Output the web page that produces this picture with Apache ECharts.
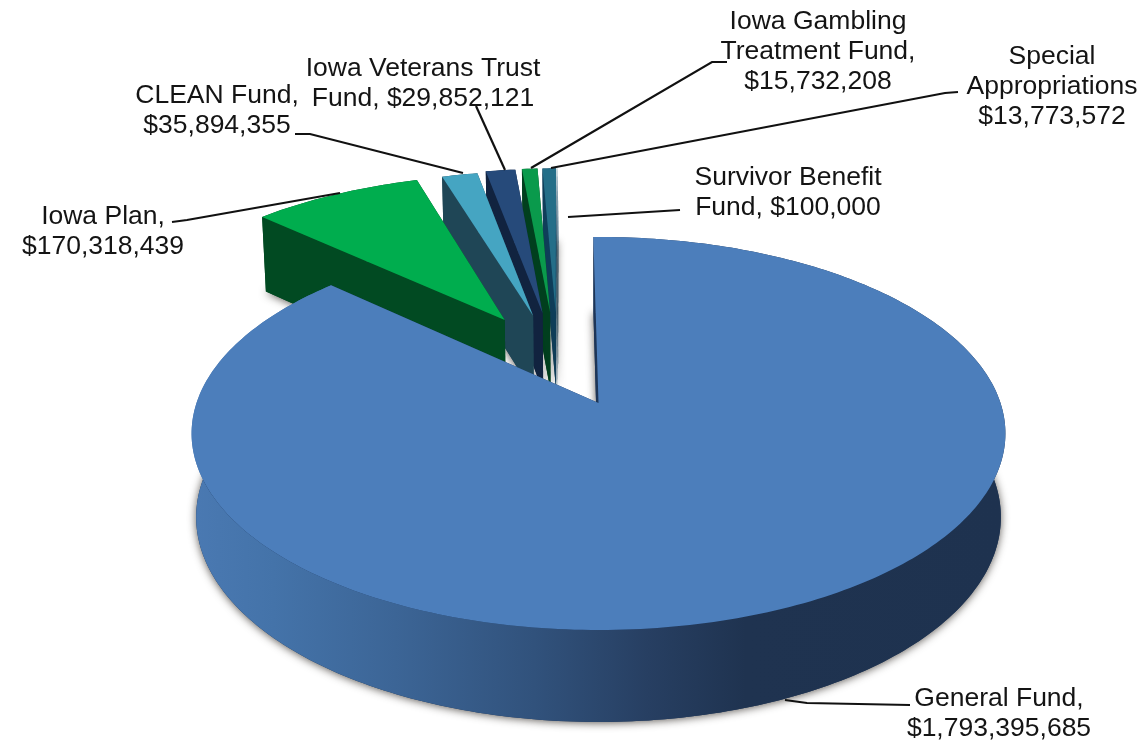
<!DOCTYPE html>
<html>
<head>
<meta charset="utf-8">
<style>
html,body{margin:0;padding:0;background:#fff}
#main{width:1142px;height:753px;filter:blur(0.45px)}
</style>
<script src="https://cdn.jsdelivr.net/npm/echarts@6/dist/echarts.min.js"></script>
</head>
<body>
<div id="main"></div>
<script>
// ---- data ----
var categories = ['General Fund','Iowa Plan','CLEAN Fund','Iowa Veterans Trust Fund','Iowa Gambling Treatment Fund','Special Appropriations','Survivor Benefit Fund'];
var fundValues = [1793395685,170318439,35894355,29852121,15732208,13773572,100000];
var labelTexts = [
  'General Fund,\n$1,793,395,685',
  'Iowa Plan,\n$170,318,439',
  'CLEAN Fund,\n$35,894,355',
  'Iowa Veterans Trust\nFund, $29,852,121',
  'Iowa Gambling\nTreatment Fund,\n$15,732,208',
  'Special\nAppropriations\n$13,773,572',
  'Survivor Benefit\nFund, $100,000'
];

// ---- styles and layout ----
var topColors  = ['#4c7ebb','#00ad4e','#45a5c2','#264a7a','#0a9a4c','#246e88','#246e88'];
var wallColors = ['#1d3557','#014a22','#1f4656','#11233f','#013f1e','#0f3e5a','#0f3e5a'];
var explodeX = [0,-0.25,-0.175,-0.15,-0.13,-0.115,-0.11];
var explodeY = [0,0.464,0.49,0.505,0.51,0.51,0.51];
var drawRank = [7,6,5,4,3,2,1];
var labelX = [999,103,217,423,818,1052,788];
var labelY = [713,231,110,83,51,86,192];
var leaders = [
  [[785,700],[807,703],[910,705]],
  [[172,222],[187,220],[340,193]],
  [[295,134],[310,134],[463,173]],
  [[476,106],[505,170]],
  [[727,62],[712,62],[531,168]],
  [[958,92],[945,93],[551,168]],
  [[680,210],[568,217]]
];
var START_DEG = -0.85, PERSP = 0.155;
var TOP = {cx:598.5, cy:403, rx:402, ry:191.8};
var BOT = {cx:598.5, cy:485.4, rx:397.5, ry:199.9};

var total = fundValues.reduce(function(a,b){return a+b;},0);

function project(p, X, Y){
  var w = 1 + PERSP*Y;
  return [p.cx + p.rx*X/w, p.cy - p.ry*Y/w];
}
function arcPoints(p, a0, a1, ox, oy){
  var pts = [], n = Math.max(2, Math.ceil((a1-a0)));
  for (var i=0;i<=n;i++){
    var t = (a0+(a1-a0)*i/n)*Math.PI/180;
    pts.push(project(p, ox+Math.sin(t), oy+Math.cos(t)));
  }
  return pts;
}
var blueWall = {type:'linear',x:192,y:0,x2:1006,y2:0,global:true,colorStops:[
  {offset:0,color:'#4a79b2'},{offset:0.1,color:'#4473a9'},{offset:0.25,color:'#3c6596'},
  {offset:0.42,color:'#31527c'},{offset:0.56,color:'#273f62'},{offset:0.68,color:'#1f3350'},{offset:1,color:'#1e324f'}
]};

function renderSlice(params, api){
  var i = params.dataIndex, value = api.value(0), before = 0;
  for (var k=0;k<i;k++) before += fundValues[k];
  var a0 = START_DEG + before/total*360, a1 = a0 + value/total*360;
  var ox = explodeX[i], oy = explodeY[i], base = drawRank[i]*10;
  var wallFill = i===0 ? blueWall : wallColors[i];
  var topArc = arcPoints(TOP,a0,a1,ox,oy), botArc = arcPoints(BOT,a0,a1,ox,oy);
  var apexT = project(TOP,ox,oy), apexB = project(BOT,ox,oy);
  var thin = value/total < 0.001;
  var children = [];
  children.push({type:'polygon',z2:base,shape:{points:[apexB].concat(botArc)},
    style:{fill:wallColors[i],shadowBlur:thin?0:9,shadowColor:'rgba(40,35,30,0.75)',shadowOffsetY:1}});
  children.push({type:'polygon',z2:base+1,shape:{points:topArc.concat(botArc.slice().reverse())},style:{fill:wallFill}});
  children.push({type:'polygon',z2:base+2,shape:{points:[apexT,topArc[topArc.length-1],botArc[botArc.length-1],apexB]},style:{fill:wallColors[i]}});
  children.push({type:'polygon',z2:base+3,shape:{points:[apexT,topArc[0],botArc[0],apexB]},style:{fill:wallColors[i]}});
  children.push({type:'polygon',z2:base+4,shape:{points:[apexT].concat(topArc)},style:{fill:topColors[i]}});
  children.push({type:'polyline',z2:200,shape:{points:leaders[i]},style:{fill:'none',stroke:'#111111',lineWidth:2.2}});
  children.push({type:'text',z2:201,x:labelX[i],y:labelY[i]+1,style:{
    text:labelTexts[i],fill:'#141414',align:'center',verticalAlign:'middle',
    font:'26.5px "Liberation Sans", Arial, sans-serif',lineHeight:30}});
  return {type:'group',children:children};
}

var chart = echarts.init(document.getElementById('main'),null,{renderer:'canvas'});
chart.setOption({
  backgroundColor:'#ffffff',
  animation:false,
  series:[{
    type:'custom',
    coordinateSystem:'none',
    renderItem:renderSlice,
    silent:true,
    data:categories.map(function(n,i){return {name:n,value:[fundValues[i]]};})
  }]
});
</script>
</body>
</html>
